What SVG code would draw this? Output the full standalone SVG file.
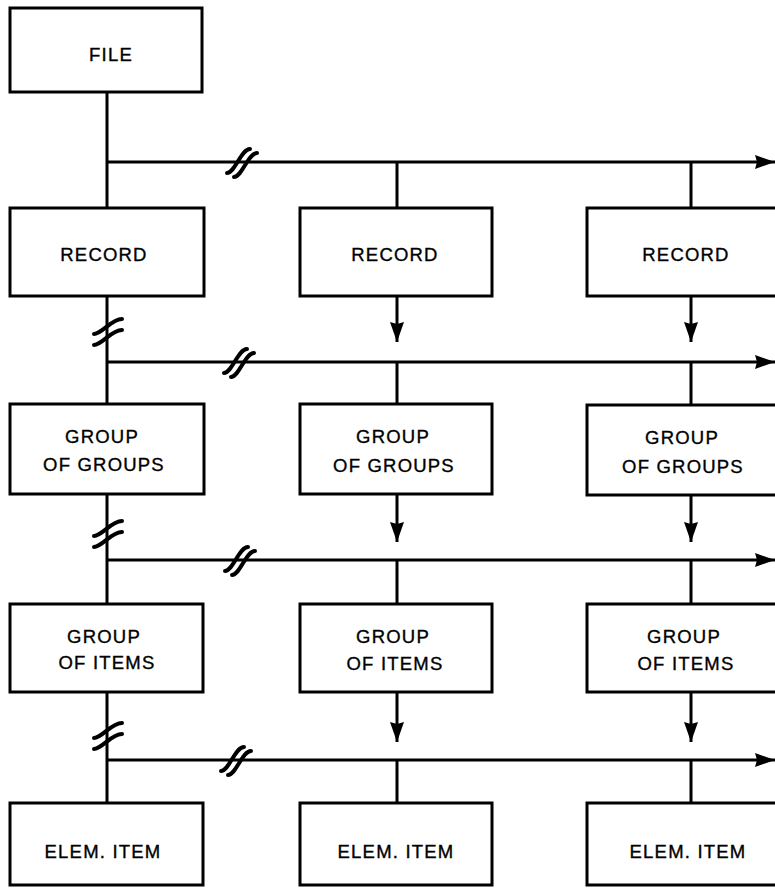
<svg xmlns="http://www.w3.org/2000/svg" width="775" height="888" viewBox="0 0 775 888">
  <style>
    .box { fill: #ffffff; stroke: #000000; stroke-width: 3; }
    .lbl { font-family: "Liberation Sans", Arial, sans-serif; font-size: 18.5px; letter-spacing: 1.2px; fill: #000000; stroke: #000000; stroke-width: 0.35; text-anchor: middle; }
    .ln { fill: none; stroke: #000000; stroke-width: 3; }
    .brk { fill: none; stroke: #000000; stroke-width: 4; stroke-linecap: round; }
  </style>
  <defs>
    <marker id="arrow" viewBox="0 0 20 14" refX="20" refY="7" markerWidth="20" markerHeight="14" markerUnits="userSpaceOnUse" orient="auto">
      <path d="M0 0 L20 7 L0 14 L2 7 Z" fill="#000000"/>
    </marker>
    <!-- break mark across a horizontal line -->
    <g id="brkH">
      <path class="brk" d="M -15 11 C -7 11, -1 -13, 8 -13"/>
      <path class="brk" d="M -8 15 C 0 15, 6 -9, 15 -9"/>
    </g>
    <!-- break mark across a vertical line -->
    <g id="brkV">
      <path class="brk" d="M -14 3 C -6 3, 3 -12, 14 -12"/>
      <path class="brk" d="M -14 14 C -6 14, 3 -1, 14 -1"/>
    </g>
  </defs>

  <rect width="775" height="888" fill="#ffffff"/>

  <!-- connectors -->
  <g id="connectors">
    <!-- left trunk -->
    <line class="ln" x1="107" y1="92" x2="107" y2="208"/>
    <line class="ln" x1="107" y1="296" x2="107" y2="404"/>
    <line class="ln" x1="107" y1="494" x2="107" y2="604"/>
    <line class="ln" x1="107" y1="692" x2="107" y2="803"/>

    <!-- horizontal branches -->
    <line class="ln" x1="106" y1="162" x2="775" y2="162" marker-end="url(#arrow)"/>
    <line class="ln" x1="106" y1="362" x2="775" y2="362" marker-end="url(#arrow)"/>
    <line class="ln" x1="106" y1="560" x2="775" y2="560" marker-end="url(#arrow)"/>
    <line class="ln" x1="106" y1="760" x2="775" y2="760" marker-end="url(#arrow)"/>

    <!-- drops from branches into boxes -->
    <line class="ln" x1="397" y1="162" x2="397" y2="208"/>
    <line class="ln" x1="691" y1="162" x2="691" y2="208"/>
    <line class="ln" x1="397" y1="362" x2="397" y2="404"/>
    <line class="ln" x1="691" y1="362" x2="691" y2="404"/>
    <line class="ln" x1="397" y1="560" x2="397" y2="604"/>
    <line class="ln" x1="691" y1="560" x2="691" y2="604"/>
    <line class="ln" x1="397" y1="760" x2="397" y2="803"/>
    <line class="ln" x1="691" y1="760" x2="691" y2="803"/>

    <!-- down arrows out of boxes -->
    <line class="ln" x1="397" y1="296" x2="397" y2="342" marker-end="url(#arrow)"/>
    <line class="ln" x1="691" y1="296" x2="691" y2="342" marker-end="url(#arrow)"/>
    <line class="ln" x1="397" y1="494" x2="397" y2="542" marker-end="url(#arrow)"/>
    <line class="ln" x1="691" y1="494" x2="691" y2="542" marker-end="url(#arrow)"/>
    <line class="ln" x1="397" y1="692" x2="397" y2="742" marker-end="url(#arrow)"/>
    <line class="ln" x1="691" y1="692" x2="691" y2="742" marker-end="url(#arrow)"/>

    <!-- break marks -->
    <use href="#brkH" x="242" y="162"/>
    <use href="#brkH" x="239" y="362"/>
    <use href="#brkH" x="240" y="560"/>
    <use href="#brkH" x="236" y="760"/>
    <use href="#brkV" x="108" y="331"/>
    <use href="#brkV" x="108" y="533"/>
    <use href="#brkV" x="108" y="735"/>
  </g>

  <!-- row 1 -->
  <g id="file">
    <rect class="box" x="10" y="8" width="192" height="84"/>
    <text class="lbl" x="111" y="61">FILE</text>
  </g>

  <!-- row 2 -->
  <g id="record-1">
    <rect class="box" x="10" y="208" width="194" height="88"/>
    <text class="lbl" x="104" y="261">RECORD</text>
  </g>
  <g id="record-2">
    <rect class="box" x="300" y="208" width="192" height="88"/>
    <text class="lbl" x="395" y="261">RECORD</text>
  </g>
  <g id="record-3">
    <rect class="box" x="587" y="208" width="200" height="88"/>
    <text class="lbl" x="686" y="261">RECORD</text>
  </g>

  <!-- row 3 -->
  <g id="group-of-groups-1">
    <rect class="box" x="10" y="404" width="194" height="90"/>
    <text class="lbl" x="102" y="443">GROUP</text>
    <text class="lbl" x="104" y="471">OF GROUPS</text>
  </g>
  <g id="group-of-groups-2">
    <rect class="box" x="300" y="404" width="192" height="90"/>
    <text class="lbl" x="393" y="443">GROUP</text>
    <text class="lbl" x="394" y="472">OF GROUPS</text>
  </g>
  <g id="group-of-groups-3">
    <rect class="box" x="587" y="405" width="200" height="90"/>
    <text class="lbl" x="682" y="444">GROUP</text>
    <text class="lbl" x="683" y="473">OF GROUPS</text>
  </g>

  <!-- row 4 -->
  <g id="group-of-items-1">
    <rect class="box" x="10" y="604" width="193" height="88"/>
    <text class="lbl" x="104" y="643">GROUP</text>
    <text class="lbl" x="107" y="669">OF ITEMS</text>
  </g>
  <g id="group-of-items-2">
    <rect class="box" x="300" y="604" width="192" height="88"/>
    <text class="lbl" x="393" y="643">GROUP</text>
    <text class="lbl" x="395" y="670">OF ITEMS</text>
  </g>
  <g id="group-of-items-3">
    <rect class="box" x="587" y="604" width="200" height="88"/>
    <text class="lbl" x="684" y="643">GROUP</text>
    <text class="lbl" x="686" y="670">OF ITEMS</text>
  </g>

  <!-- row 5 -->
  <g id="elem-item-1">
    <rect class="box" x="10" y="803" width="193" height="82"/>
    <text class="lbl" x="103" y="858">ELEM. ITEM</text>
  </g>
  <g id="elem-item-2">
    <rect class="box" x="300" y="803" width="192" height="82"/>
    <text class="lbl" x="396" y="858">ELEM. ITEM</text>
  </g>
  <g id="elem-item-3">
    <rect class="box" x="587" y="803" width="200" height="82"/>
    <text class="lbl" x="688" y="858">ELEM. ITEM</text>
  </g>
</svg>
